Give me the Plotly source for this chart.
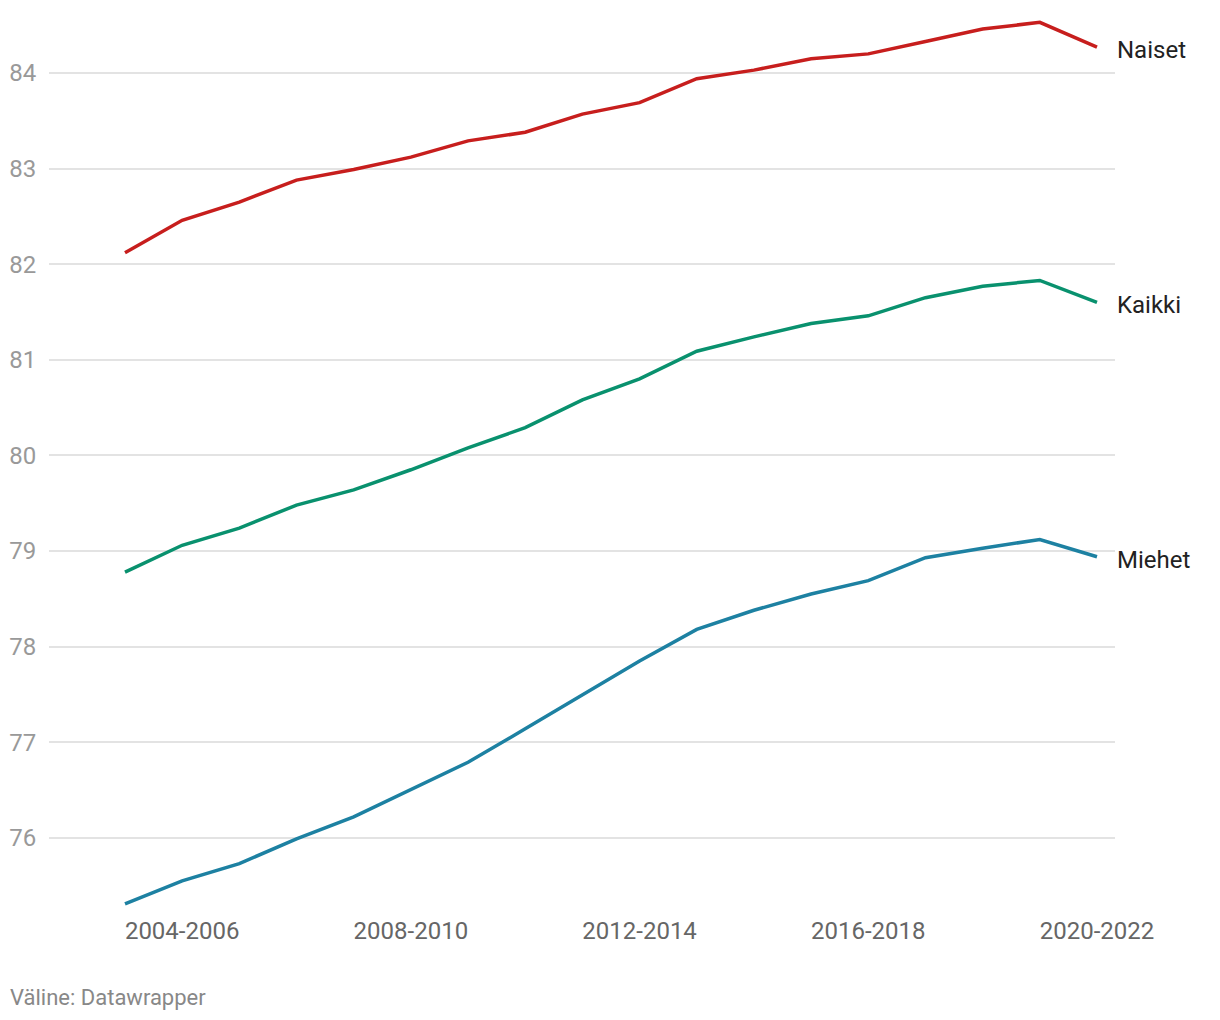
import plotly.graph_objects as go

periods = ["2003-2005", "2004-2006", "2005-2007", "2006-2008", "2007-2009", "2008-2010",
           "2009-2011", "2010-2012", "2011-2013", "2012-2014", "2013-2015", "2014-2016",
           "2015-2017", "2016-2018", "2017-2019", "2018-2020", "2019-2021", "2020-2022"]
naiset = [82.12, 82.46, 82.65, 82.88, 82.99, 83.12, 83.29, 83.38, 83.57, 83.69,
          83.94, 84.03, 84.15, 84.20, 84.33, 84.46, 84.53, 84.27]
kaikki = [78.78, 79.06, 79.24, 79.48, 79.64, 79.85, 80.08, 80.29, 80.58, 80.80,
          81.09, 81.24, 81.38, 81.46, 81.65, 81.77, 81.83, 81.60]
miehet = [75.31, 75.55, 75.73, 75.99, 76.22, 76.50, 76.79, 77.14, 77.50, 77.85,
          78.18, 78.38, 78.55, 78.69, 78.93, 79.03, 79.12, 78.94]
tick_labels = ["2004-2006", "2008-2010", "2012-2014", "2016-2018", "2020-2022"]
y_ticks = [76, 77, 78, 79, 80, 81, 82, 83, 84]

series = [("Naiset", naiset, "#c71e1d"),
          ("Kaikki", kaikki, "#09916e"),
          ("Miehet", miehet, "#1d81a2")]

fig = go.Figure()
for name, vals, col in series:
    fig.add_trace(go.Scatter(x=periods, y=vals, mode="lines", name=name,
                             line=dict(color=col, width=3.5), hoverinfo="x+y"))
    fig.add_annotation(x=periods[-1], y=vals[-1], text=name, showarrow=False,
                       xanchor="left", yanchor="middle", xshift=18, yshift=-3,
                       font=dict(family="Roboto", size=24, color="#222222"))

fig.add_annotation(xref="paper", yref="paper", x=-0.0385, y=-0.0965, text="Väline: Datawrapper",
                   showarrow=False, xanchor="left", yanchor="middle",
                   font=dict(family="Roboto", size=22, color="#888888"))

fig.update_layout(
    width=1212, height=1012,
    margin=dict(l=41, r=105, t=0, b=110),
    paper_bgcolor="white", plot_bgcolor="white",
    showlegend=False,
    font=dict(family="Roboto"),
    xaxis=dict(type="category", range=[-1.329, 17.315], tickvals=tick_labels,
               ticktext=tick_labels, showgrid=False, zeroline=False, showline=False,
               ticks="", ticklabelstandoff=4,
               tickfont=dict(family="Roboto", size=24, color="#666666")),
    yaxis=dict(range=[75.245, 84.68], tickvals=y_ticks, showgrid=True,
               gridcolor="#e3e3e3", gridwidth=1.5, zeroline=False, showline=False,
               ticks="outside", ticklen=7, tickcolor="rgba(0,0,0,0)",
               tickfont=dict(family="Roboto", size=24, color="#999999")),
)

fig.write_html("out.html")
